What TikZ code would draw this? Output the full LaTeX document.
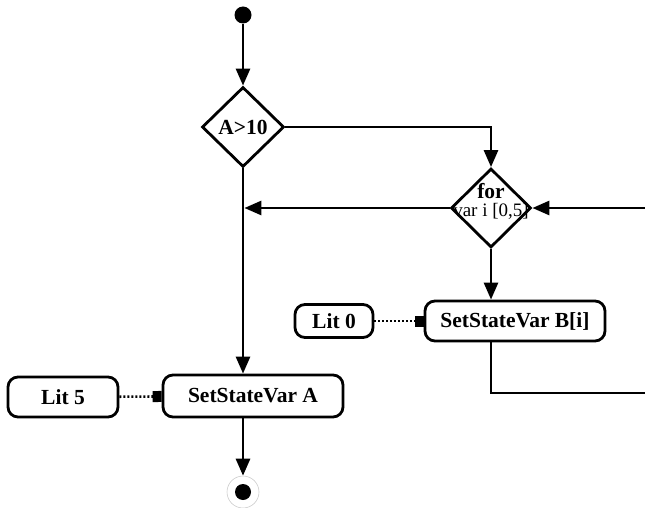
\documentclass[tikz,border=0pt]{standalone}
\usepackage{fontspec}
\setmainfont{Liberation Serif}
\usetikzlibrary{positioning}
\usetikzlibrary{shapes.geometric}
\usetikzlibrary{arrows.meta}

\begin{document}
\begin{tikzpicture}[
    x=1pt, y=-1pt,
    every node/.style={font=\fontsize{21.5}{23}\selectfont\bfseries},
    action/.style={draw,rounded corners=10pt,line width=2.8pt,minimum height=40pt,inner sep=0pt},
    decision/.style={draw,diamond,line width=2.8pt,inner sep=0pt},
    flow/.style={line width=2.8pt,-{Triangle[length=17pt,width=14pt]}},
    wire/.style={line width=2.8pt},
    pin/.style={line width=2.6pt,dash pattern=on 2pt off 2pt,-{Square[length=9pt,width=11pt]}}
    ]

    \useasboundingbox (0,0) rectangle (645,508);

    \node[fill,circle,minimum size=17pt,inner sep=0pt] (start) at (243,15) {};
    \node[decision,minimum width=82pt,minimum height=80pt,label={center:A>10}] (ifa) at (243,127) {};
    \node[decision,minimum width=80pt,minimum height=79pt,
      label={[align=center,yshift=7pt]center:for\\[-5pt]{\mdseries\fontsize{19}{20}\selectfont var i [0,5]}}] (loop) at (491,208) {};
    \node[action,minimum width=180pt] (setb) at (515,321) {SetStateVar B[i]};
    \node[action,minimum width=78pt,minimum height=33pt] (lit0) at (334,321) {Lit 0};
    \node[action,minimum width=180pt,minimum height=42pt] (seta) at (253,396) {SetStateVar A};
    \node[action,minimum width=110pt] (lit5) at (63,397) {Lit 5};
    \node[circle,draw=black!20,line width=0.6pt,minimum size=32pt] (stop) at (243,492) {};
    \node[circle,fill,minimum size=16pt,inner sep=0pt] (stopdot) at (stop) {};

    \coordinate (inR) at (645,208);
    \coordinate (outR) at (645,393);

    \draw[flow] (start) -- (ifa.north);
    \draw[flow] (ifa.east) -| (loop.north);
    \draw[flow] (ifa.south) -- (ifa.south |- seta.north);
    \draw[flow,shorten >=1.4pt] (loop.west) -- (loop.west -| ifa.south);
    \draw[flow] (inR) -- (loop.east);
    \draw[flow] (loop.south) -- (loop.south |- setb.north);
    \draw[wire] (loop.south |- setb.south) |- (outR);
    \draw[pin] (lit0) -- (setb);
    \draw[pin] (lit5) -- (seta);
    \draw[flow] (ifa.south |- seta.south) -- (stop);

\end{tikzpicture}
\end{document}
